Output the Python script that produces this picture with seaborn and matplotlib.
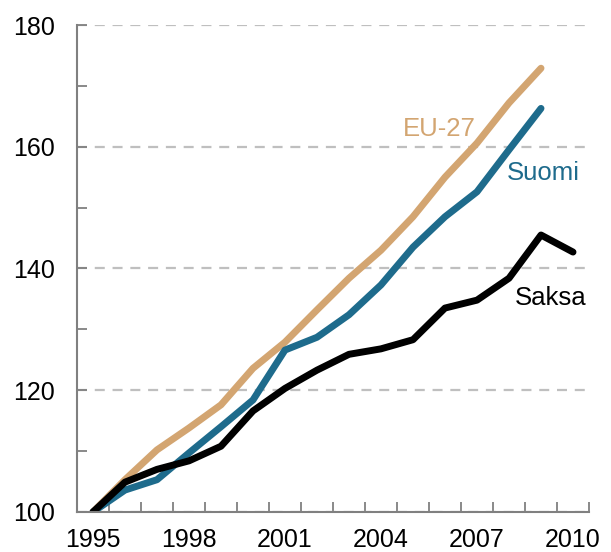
import numpy as np
import pandas as pd
import seaborn as sns
import matplotlib.pyplot as plt

# values (index, 1995 = 100)
years = list(range(1995, 2011))
eu27 = [100, 105.3, 110.2, 113.8, 117.6, 123.6, 127.9, 133.2, 138.4,
        143.0, 148.5, 155.0, 160.6, 167.2, 172.9, None]
suomi = [100, 103.6, 105.3, 109.7, 114.0, 118.4, 126.6, 128.7, 132.4,
         137.3, 143.5, 148.5, 152.6, 159.5, 166.3, None]
saksa = [100, 104.9, 107.0, 108.4, 110.8, 116.6, 120.3, 123.3, 125.9,
         126.8, 128.3, 133.5, 134.8, 138.4, 145.5, 142.7]

series_names = ["EU-27", "Suomi", "Saksa"]
colors = {"EU-27": "#D3A571", "Suomi": "#1E6B8C", "Saksa": "#000000"}

df = pd.DataFrame({
    "year": years * 3,
    "value": eu27 + suomi + saksa,
    "series": sum([[s] * len(years) for s in series_names], []),
}).dropna()

sns.set_style("white")
plt.rcParams['font.family'] = ['Liberation Sans', 'DejaVu Sans']

fig = plt.figure(figsize=(6.11, 5.52), dpi=100)
ax = fig.add_axes([0.126, 0.0725, 0.838, 0.8822])

for name in series_names:
    sns.lineplot(data=df[df["series"] == name], x="year", y="value",
                 color=colors[name], linewidth=5, ax=ax,
                 solid_capstyle="round", solid_joinstyle="round")

ax.set_xlim(1994.5, 2010.5)
ax.set_ylim(100, 180)
ax.set_xlabel("")
ax.set_ylabel("")

ax.set_xticks([1995, 1998, 2001, 2004, 2007, 2010])
ax.set_xticks(np.arange(1995.5, 2011, 1), minor=True)
ax.tick_params(axis="x", which="major", bottom=False, labelsize=18,
               labelcolor="black", pad=8)
ax.tick_params(axis="x", which="minor", bottom=True, direction="in",
               length=7, width=1.3, color="#808080")

ax.set_yticks([100, 120, 140, 160, 180])
ax.set_yticks([110, 130, 150, 170], minor=True)
ax.tick_params(axis="y", which="both", left=True, direction="in", length=7,
               width=1.3, color="#808080", labelsize=18, labelcolor="black",
               pad=16)

ax.yaxis.grid(True, which="major", linestyle=(0, (4.5, 3.5)),
              color="#BFBFBF", linewidth=1.6)
ax.set_axisbelow(True)

for side in ["top", "right"]:
    ax.spines[side].set_visible(False)
for side in ["left", "bottom"]:
    ax.spines[side].set_color("#808080")
    ax.spines[side].set_linewidth(1.5)

ax.text(2004.69, 161.8, "EU-27", color=colors["EU-27"], fontsize=18.5)
ax.text(2007.94, 154.5, "Suomi", color=colors["Suomi"], fontsize=18.5)
ax.text(2008.19, 134.0, "Saksa", color=colors["Saksa"], fontsize=18.5)

fig.savefig("out.png", dpi=100)
